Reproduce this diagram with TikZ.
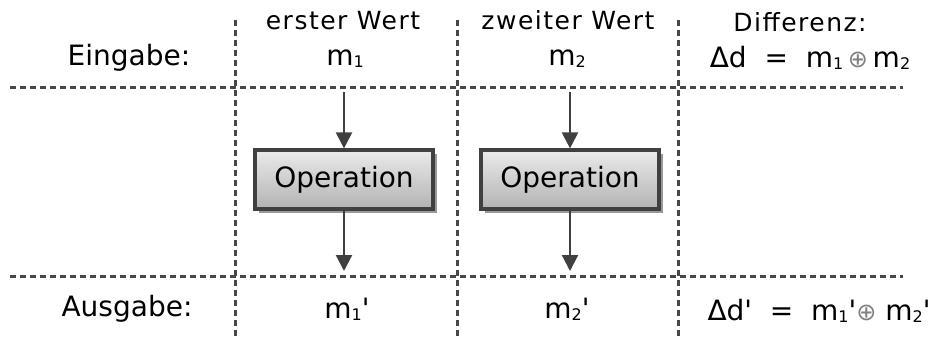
\documentclass[tikz,border=0pt]{standalone}
\usepackage{fontspec}
\setmainfont{DejaVu Sans}[Ligatures=TeXOff]
\newfontfamily\headfont{DejaVu Sans}[LetterSpace=6,Ligatures=TeXOff]
\usetikzlibrary{arrows.meta,shadows}

% small lowered index digit
\newcommand\lowidx[1]{\raisebox{-2pt}{\fontsize{16}{16}\selectfont #1}}
% grey circled plus
\newcommand\xorsym{{\fontsize{24}{24}\selectfont\textcolor{black!50}{⊕}}}

\tikzset{
  grid/.style={draw=black!72, line width=3pt, dash pattern=on 6pt off 4pt},
  hd/.style={font=\headfont\fontsize{25}{30}\selectfont, anchor=base, inner sep=0pt},
  mt/.style={font=\fontsize{28}{33}\selectfont, anchor=base, inner sep=0pt},
  opbox/.style={draw=black!75, line width=3.2pt, top color=black!8, bottom color=black!30,
    minimum width=178pt, minimum height=59pt, inner sep=0pt,
    font=\fontsize{28}{33}\selectfont,
    drop shadow={shadow xshift=3.5pt, shadow yshift=-3.5pt, fill=black!50, opacity=0.8}},
  flow/.style={draw=black!75, line width=2.2pt, -{Triangle[width=16pt,length=16pt]}}
}

\begin{document}
\begin{tikzpicture}[x=1pt, y=-1pt]
\useasboundingbox (0,0) rectangle (933,337);

% grid of dashed separators
\draw[grid] (10,87) -- (903,87);
\draw[grid] (10,276) -- (903,276);
\draw[grid] (235,20) -- (235,337);
\draw[grid] (457,20) -- (457,337);
\draw[grid] (678,20) -- (678,337);

% row labels
\node[mt] (ein) at (129,65) {Eingabe:};
\node[mt] (aus) at (127,316) {Ausgabe:};

% column headers
\node[hd] (h1) at (343,30) {erster Wert};
\node[hd] (h2) at (568,30) {zweiter Wert};
\node[hd] (h3) at (800,32) {Differenz:};

% inputs
\node[mt] (m1) at (345,65) {m\lowidx{1}};
\node[mt] (m2) at (567,65) {m\lowidx{2}};
\node[mt] (dd) at (810,67) {Δd\ \ =\ \ m\lowidx{1}\,\xorsym\,m\lowidx{2}};

% operations
\node[opbox] (op1) at (344,179.5) {Operation};
\node[opbox] (op2) at (570,179.5) {Operation};

% outputs
\node[mt] (o1) at (347,318) {m\lowidx{1}'};
\node[mt] (o2) at (567,318) {m\lowidx{2}'};
\node[mt] (do) at (819,320) {Δd'\ \ =\ \ m\lowidx{1}'\xorsym\ m\lowidx{2}'};

% flow arrows
\coordinate (in1) at (344,92);
\coordinate (in2) at (570,92);
\coordinate (out1) at (344,271);
\coordinate (out2) at (570,271);
\draw[flow] (in1) -- (op1.north);
\draw[flow] (in2) -- (op2.north);
\draw[flow] (op1.south) -- (out1);
\draw[flow] (op2.south) -- (out2);
\end{tikzpicture}
\end{document}
